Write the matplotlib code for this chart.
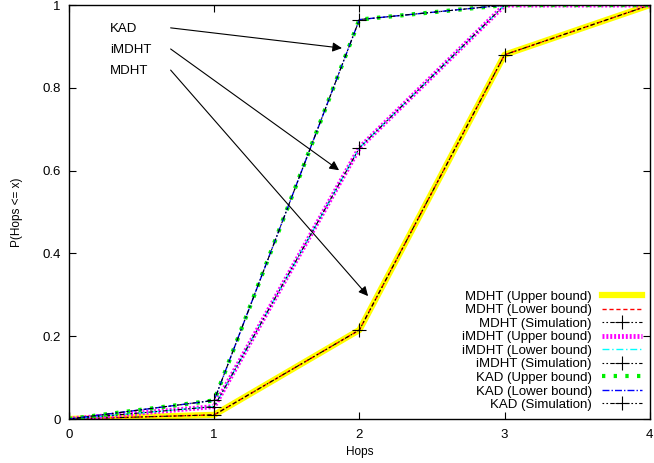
import matplotlib.pyplot as plt
import numpy as np

plt.rcParams['font.family'] = ['Liberation Sans', 'DejaVu Sans']
plt.rcParams['font.size'] = 9

hops = [0, 1, 2, 3, 4]

mdht = [0, 0.01, 0.215, 0.88, 1]
imdht = [0, 0.03, 0.655, 1, 1]
kad = [0, 0.045, 0.965, 1, 1]

x_ticks = [0, 1, 2, 3, 4]
y_ticks = [0, 0.2, 0.4, 0.6, 0.8, 1]
y_labels = ["0", "0.2", "0.4", "0.6", "0.8", "1"]

# annotation label, text position, arrow tip (data coords)
labels = ["KAD", "iMDHT", "MDHT"]
text_y = [0.942, 0.891, 0.840]
arrow_tip = [(1.88, 0.896), (1.86, 0.601), (2.06, 0.297)]

fig = plt.figure(figsize=(6.54, 4.63), dpi=100)
ax = fig.add_axes([0.1055, 0.095, 0.888, 0.894])

sim_dash = (0, (1.5, 2, 1.5, 2, 4, 2))

ax.plot(hops, mdht, color="#ffff00", lw=4.5, label="MDHT (Upper bound)")
ax.plot(hops, mdht, color="red", lw=1, ls=(0, (3, 2)), label="MDHT (Lower bound)")
ax.plot(hops, mdht, color="black", lw=0.8, ls=sim_dash, marker="+", ms=10,
        mew=0.8, label="MDHT (Simulation)")

ax.plot(hops, imdht, color="magenta", lw=3.5, ls=(0, (0.4, 0.4)), label="iMDHT (Upper bound)")
ax.plot(hops, imdht, color="cyan", lw=1, ls=(0, (5, 2, 1, 2)), label="iMDHT (Lower bound)")
ax.plot(hops, imdht, color="black", lw=0.8, ls=sim_dash, marker="+", ms=10,
        mew=0.8, label="iMDHT (Simulation)")

ax.plot(hops, kad, color="#00ee00", lw=3, ls=(0, (0.8, 2)), label="KAD (Upper bound)")
ax.plot(hops, kad, color="blue", lw=1, ls=(0, (5, 1.5, 1, 1.5)), label="KAD (Lower bound)")
ax.plot(hops, kad, color="black", lw=0.8, ls=sim_dash, marker="+", ms=10,
        mew=0.8, label="KAD (Simulation)")

for lab, ty, tip in zip(labels, text_y, arrow_tip):
    ax.text(0.28, ty, lab, va="center", ha="left", fontsize=9.5)
    ax.annotate("", xy=tip, xytext=(0.70, ty + 0.003),
                arrowprops=dict(arrowstyle="-|>", color="black", lw=0.8,
                                mutation_scale=14, shrinkA=0, shrinkB=0))

ax.set_xlim(0, 4)
ax.set_ylim(0, 1)
ax.set_xticks(x_ticks)
ax.set_xticklabels([str(t) for t in x_ticks])
ax.set_yticks(y_ticks)
ax.set_yticklabels(y_labels)
ax.tick_params(direction="in", top=True, right=True, length=5, width=0.8,
               labelsize=9.5)
ax.tick_params(axis="x", pad=7)
ax.tick_params(axis="y", pad=6)
for s in ax.spines.values():
    s.set_linewidth(1)

ax.set_xlabel("Hops", fontsize=8.5, labelpad=4)
ax.set_ylabel("P(Hops <= x)", fontsize=8.5, labelpad=14)

ax.legend(loc="lower right", frameon=False, markerfirst=False, fontsize=9.5,
          handlelength=3, labelspacing=0.1, handletextpad=0.8,
          borderaxespad=0.2)

fig.savefig("out.png", dpi=100)
